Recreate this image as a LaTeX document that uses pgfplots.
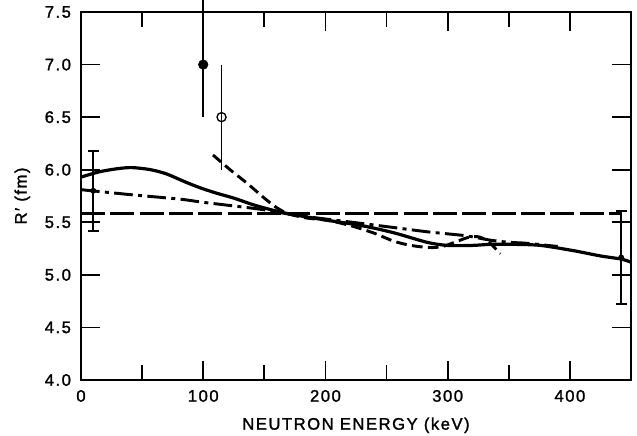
\documentclass[border=0pt]{standalone}
\usepackage{pgfplots}
\pgfplotsset{compat=1.18}
\usepackage{fontspec}
\setmainfont[LetterSpace=9, FakeBold=1.5]{Liberation Sans}
\begin{document}
\begin{tikzpicture}[font=\fontsize{12.5}{15}\selectfont]
\begin{axis}[
  scale only axis, width=412.5pt, height=276pt,
  xmin=0, xmax=450, ymin=4, ymax=7.5,
  xtick={0,100,200,300,400}, minor xtick={50,150,250,350},
  ytick={4,4.5,5,5.5,6,6.5,7,7.5},
  tick align=inside,
  major tick length=14pt, minor tick length=11pt,
  axis line style={line width=1.4pt},
  every tick/.style={line width=1.3pt, black},
  /pgf/number format/assume math mode=true,
  yticklabel style={/pgf/number format/fixed, /pgf/number format/fixed zerofill, /pgf/number format/precision=1, xshift=-4pt},
  xticklabel style={yshift=-4pt},
  xlabel={NEUTRON ENERGY (keV)}, ylabel={R′ (fm)},
  every axis x label/.style={at={(axis description cs:0.5,0)}, anchor=center, yshift=-34pt},
  every axis y label/.style={at={(axis description cs:0,0.5)}, anchor=center, rotate=90, yshift=44pt},
  clip=false,
]
% horizontal long-dashed line
\addplot[black, line width=2.2pt, dash pattern=on 18pt off 4pt] coordinates {(0,5.58) (442,5.58)};
% solid curve
\addplot[black, line width=2.4pt, smooth] coordinates {
 (0,5.93) (15,5.98) (30,6.01) (42,6.02) (57,6.0) (70,5.96) (84,5.89) (97,5.83) (110,5.78)
 (125,5.73) (140,5.67) (152,5.63) (166,5.59) (180,5.56) (201,5.52) (229,5.47) (256,5.40)
 (283,5.31) (300,5.28) (320,5.28) (335,5.29) (355,5.29) (376,5.28) (403,5.23) (425,5.18)
 (442,5.15) (450,5.12)};
% dash-dot curve
\addplot[black, line width=2.2pt, smooth, dash pattern=on 14pt off 4pt on 3pt off 4pt] coordinates {
 (0,5.81) (43,5.76) (81,5.72) (100,5.69) (136,5.64) (155,5.61) (174,5.57) (201,5.53)
 (229,5.49) (256,5.45) (283,5.41) (300,5.39) (316,5.37) (335,5.33) (350,5.31) (365,5.30)
 (390,5.27)};
% short-dashed curve
\addplot[black, line width=2.2pt, smooth, dash pattern=on 8pt off 4pt] coordinates {
 (108,6.14) (122,6.0) (136,5.87) (150,5.73) (160,5.64) (170,5.58) (185,5.54) (201,5.52)
 (220,5.47) (239,5.40) (256,5.32) (270,5.28) (285,5.26) (296,5.27) (308,5.32) (318,5.36)
 (326,5.36) (334,5.31) (343,5.20)};
% left error bar
\addplot[only marks, mark=none, black,
  error bars/.cd, y dir=both, y explicit,
  error bar style={line width=1.4pt, black},
  error mark options={rotate=90, mark size=4pt, line width=1.4pt, black}]
  coordinates {(10,5.80) +- (0,0.38)};
% right error bar
\addplot[only marks, mark=none, black,
  error bars/.cd, y dir=both, y explicit,
  error bar style={line width=1.4pt, black},
  error mark options={rotate=90, mark size=4pt, line width=1.4pt, black}]
  coordinates {(442,5.165) +- (0,0.445)};
% filled circle
\addplot[only marks, mark=*, mark size=3.6pt, black,
  error bars/.cd, y dir=both, y explicit, error mark=none,
  error bar style={line width=1.1pt, black}]
  coordinates {(100,7.0) += (0,0.62) -= (0,0.5)};
% open circle
\addplot[only marks, mark=o, mark size=3.4pt, black, mark options={fill=white, line width=1pt},
  error bars/.cd, y dir=both, y explicit, error mark=none,
  error bar style={line width=1.1pt, black}]
  coordinates {(115,6.5) +- (0,0.5)};
\end{axis}
\pgfresetboundingbox
\path[use as bounding box] (-60.75pt,-42pt) rectangle (417pt,285pt);
\end{tikzpicture}
\end{document}
